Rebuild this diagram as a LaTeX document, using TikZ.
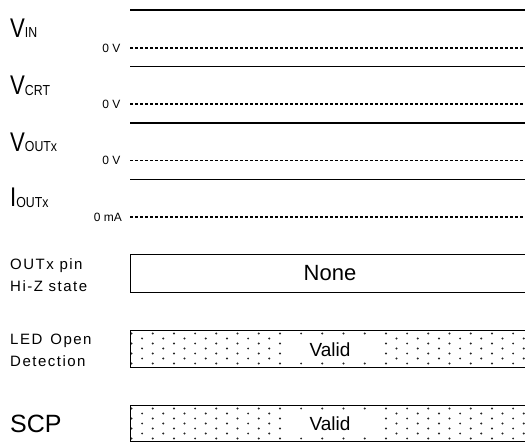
\documentclass[tikz,border=0pt]{standalone}
\usepackage{fontspec}
\setmainfont{Liberation Sans}
\newfontfamily\spacedfont[LetterSpace=10]{Liberation Sans}
\newcommand\bigsig[2]{\scalebox{0.82}[1]{\fontsize{27}{27}\selectfont #1}\raisebox{-0.5pt}{\scalebox{0.85}[1]{\fontsize{14.5}{14.5}\selectfont #2}}}
\newcommand\pdotsband[1]{%
  \foreach \i in {0,...,37} {
    \pgfmathsetmacro\xx{131.5+10.6*\i}
    \pgfmathsetmacro\off{mod(\i,2)*5}
    \foreach \j in {0,...,3} {
      \pgfmathsetmacro\yy{#1+3.5+\off+10*\j}
      \ifdim\yy pt<\numexpr#1+37\relax pt
        \fill[dotc] (\xx,\yy) circle (1.1);
      \fi
    }
  }
}
\begin{document}
\begin{tikzpicture}[x=1pt,y=-1pt,
  sig/.style={line width=1.9pt},
  zero/.style={line width=1.6pt, dash pattern=on 3pt off 2pt},
  boxline/.style={line width=1.9pt},
  dotc/.style={fill=black!85},
  biglbl/.style={anchor=base west, inner sep=0pt},
  smalllbl/.style={anchor=base west, inner sep=0pt, font=\spacedfont\fontsize{15}{15}\selectfont},
  zlbl/.style={anchor=east, inner sep=0pt, font=\fontsize{12}{12}\selectfont},
  ]
\useasboundingbox (0,0) rectangle (525,443);

% signal labels
\node[biglbl] (vin)  at (10,37.5)  {\bigsig{V}{IN}};
\node[biglbl] (vcrt) at (10,95)    {\bigsig{V}{CRT}};
\node[biglbl] (vout) at (10,151.5) {\bigsig{V}{OUTx}};
\node[biglbl] (iout) at (10,207)   {\bigsig{I}{OUTx}};

% high-level solid lines
\coordinate (h1s) at (130,10);    \coordinate (h1e) at (525,10);
\coordinate (h2s) at (130,66.5);  \coordinate (h2e) at (525,66.5);
\coordinate (h3s) at (130,123);   \coordinate (h3e) at (525,123);
\coordinate (h4s) at (130,179.5); \coordinate (h4e) at (525,179.5);
\draw[sig] (h1s) -- (h1e);
\draw[sig] (h2s) -- (h2e);
\draw[sig] (h3s) -- (h3e);
\draw[sig] (h4s) -- (h4e);

% zero levels
\node[zlbl] (z1) at (120.5,48)  {0 V};
\node[zlbl] (z2) at (120.5,104) {0 V};
\node[zlbl] (z3) at (120.5,160.5) {0 V};
\node[zlbl] (z4) at (122,217)   {0 mA};
\coordinate (z1e) at (525,48);
\coordinate (z2e) at (525,104);
\coordinate (z3e) at (525,160.5);
\coordinate (z4e) at (525,217);
\draw[zero] ([xshift=9.5pt]z1.east) -- (z1e);
\draw[zero] ([xshift=9.5pt]z2.east) -- (z2e);
\draw[zero] ([xshift=9.5pt]z3.east) -- (z3e);
\draw[zero] ([xshift=8pt]z4.east) -- (z4e);

% OUTx pin Hi-Z state
\node[smalllbl] (hiz1) at (10,269.5) {OUTx pin};
\node[smalllbl] (hiz2) at (10,292)   {Hi-Z state};
\draw[boxline] (525,254.5) -- (130.5,254.5) -- (130.5,292.5) -- (525,292.5);
\node[inner sep=0pt, font=\fontsize{22}{22}\selectfont] (none) at (330,273.5) {None};

% LED Open Detection
\node[smalllbl] (led1) at (10,344.5) {LED\hspace{8pt}Open};
\node[smalllbl] (led2) at (10,367)   {Detection};
\pdotsband{330}
\fill[white] (282,335.5) rectangle (377,362.5);
\draw[boxline] (525,330.5) -- (130.5,330.5) -- (130.5,367.5) -- (525,367.5);
\node[inner sep=0pt, font=\fontsize{19}{19}\selectfont] (valid1) at (330,349.5) {Valid};

% SCP
\node[biglbl, font=\fontsize{25}{25}\selectfont] (scp) at (10,433) {SCP};
\pdotsband{405}
\fill[white] (282,410.5) rectangle (377,437.5);
\draw[boxline] (525,405.5) -- (130.5,405.5) -- (130.5,441.5) -- (525,441.5);
\node[inner sep=0pt, font=\fontsize{19}{19}\selectfont] (valid2) at (330,424) {Valid};
\end{tikzpicture}
\end{document}
